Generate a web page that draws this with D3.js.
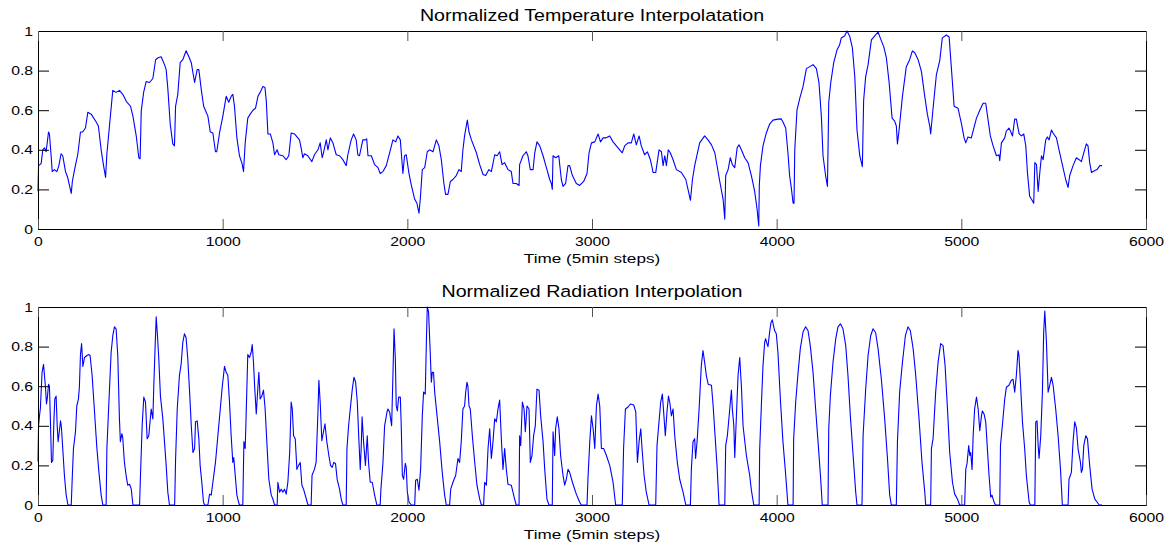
<!DOCTYPE html>
<html>
<head>
<meta charset="utf-8">
<script src="https://cdn.jsdelivr.net/npm/d3@7"></script>
<style>
  body { margin: 0; background: #fff; }
  svg { display: block; }
  text { font-family: Arial, "Liberation Sans", Helvetica, sans-serif; fill: #000; }
</style>
</head>
<body>
<svg id="chart" width="1169" height="546"></svg>
<script>
// Tick values and labels shared by both panels
const xTicks = [0, 1000, 2000, 3000, 4000, 5000, 6000];
const yTicks = [0, 0.2, 0.4, 0.6, 0.8, 1];
const yTickLabels = ["0", "0.2", "0.4", "0.6", "0.8", "1"];
const xLabel = "Time (5min steps)";
const titles = ["Normalized Temperature Interpolatation", "Normalized Radiation Interpolation"];

// Normalized temperature: time step and value
const tempSteps = [0,3,17,26,35,44,57,62,71,77,89,102,113,125,134,149,161,180,186,198,216,230,242,257,270,288,315,327,342,355,366,373,387,405,423,441,459,478,501,514,532,546,553,559,572,586,604,622,637,650,667,685,694,703,716,730,739,745,757,770,784,802,817,830,848,862,871,884,897,920,933,947,961,968,983,1001,1019,1033,1046,1055,1064,1077,1091,1105,1113,1122,1136,1149,1164,1178,1191,1203,1218,1229,1236,1245,1258,1272,1281,1295,1304,1326,1344,1358,1371,1389,1416,1425,1434,1443,1461,1483,1497,1516,1528,1539,1546,1561,1570,1583,1597,1615,1633,1651,1669,1678,1696,1709,1723,1732,1741,1759,1773,1780,1787,1805,1823,1841,1853,1868,1886,1904,1922,1937,1949,1962,1976,1985,1994,2009,2022,2040,2052,2063,2070,2081,2094,2108,2121,2139,2157,2171,2184,2198,2207,2220,2233,2247,2265,2280,2292,2301,2310,2319,2325,2334,2347,2374,2392,2410,2424,2442,2455,2473,2486,2500,2513,2527,2545,2563,2572,2590,2605,2608,2626,2644,2653,2666,2681,2690,2702,2717,2735,2753,2771,2780,2785,2789,2803,2820,2834,2843,2857,2870,2879,2894,2915,2933,2955,2973,2984,2997,3015,3033,3046,3060,3074,3096,3114,3132,3150,3164,3177,3195,3213,3226,3240,3255,3267,3285,3300,3316,3331,3345,3363,3376,3385,3394,3403,3413,3424,3439,3457,3484,3508,3520,3533,3544,3556,3583,3610,3628,3647,3665,3692,3710,3719,3724,3737,3749,3760,3773,3786,3796,3809,3827,3845,3863,3881,3894,3903,3906,3912,3926,3944,3962,3980,4007,4025,4034,4049,4061,4070,4079,4089,4094,4098,4110,4125,4143,4161,4179,4197,4215,4229,4242,4251,4265,4275,4282,4293,4309,4327,4341,4350,4368,4381,4395,4410,4423,4435,4450,4464,4471,4482,4495,4513,4531,4549,4563,4580,4594,4609,4625,4639,4648,4654,4663,4681,4702,4720,4735,4748,4766,4784,4802,4816,4829,4834,4847,4865,4883,4897,4919,4934,4946,4961,4982,5000,5015,5024,5036,5054,5082,5100,5118,5132,5145,5157,5172,5190,5204,5208,5217,5235,5244,5258,5266,5277,5289,5298,5313,5325,5338,5349,5358,5370,5380,5392,5398,5407,5416,5425,5434,5443,5457,5466,5475,5488,5500,5515,5529,5547,5565,5578,5587,5605,5623,5638,5650,5663,5677,5686,5695,5705,5723,5735,5750,5762];
const tempValues = [0.19,0.32,0.33,0.40,0.41,0.39,0.49,0.48,0.37,0.29,0.30,0.29,0.32,0.38,0.37,0.29,0.26,0.18,0.24,0.30,0.38,0.49,0.49,0.51,0.59,0.58,0.54,0.52,0.40,0.32,0.26,0.38,0.52,0.70,0.69,0.70,0.68,0.645,0.62,0.57,0.47,0.36,0.355,0.595,0.69,0.745,0.74,0.76,0.855,0.865,0.87,0.83,0.805,0.71,0.53,0.43,0.42,0.62,0.68,0.84,0.855,0.90,0.87,0.84,0.74,0.805,0.805,0.705,0.62,0.57,0.49,0.485,0.39,0.39,0.485,0.57,0.67,0.64,0.67,0.68,0.62,0.46,0.37,0.33,0.29,0.435,0.56,0.58,0.60,0.61,0.67,0.69,0.72,0.715,0.65,0.48,0.48,0.435,0.375,0.40,0.375,0.37,0.35,0.37,0.485,0.48,0.45,0.41,0.36,0.38,0.37,0.34,0.375,0.40,0.435,0.36,0.385,0.45,0.40,0.46,0.435,0.375,0.37,0.35,0.32,0.375,0.45,0.48,0.45,0.375,0.37,0.45,0.45,0.455,0.37,0.37,0.325,0.31,0.28,0.29,0.32,0.385,0.45,0.44,0.47,0.45,0.28,0.37,0.375,0.28,0.22,0.15,0.13,0.08,0.15,0.30,0.31,0.39,0.40,0.39,0.45,0.42,0.35,0.23,0.175,0.175,0.24,0.25,0.27,0.30,0.29,0.40,0.47,0.52,0.55,0.49,0.45,0.385,0.325,0.275,0.27,0.30,0.29,0.375,0.37,0.39,0.325,0.335,0.30,0.29,0.23,0.23,0.22,0.325,0.37,0.39,0.37,0.30,0.30,0.385,0.44,0.42,0.37,0.31,0.25,0.23,0.20,0.37,0.36,0.37,0.25,0.215,0.23,0.32,0.32,0.27,0.23,0.22,0.24,0.28,0.385,0.435,0.44,0.48,0.44,0.46,0.46,0.47,0.44,0.42,0.40,0.385,0.42,0.435,0.435,0.48,0.425,0.47,0.42,0.375,0.39,0.35,0.285,0.285,0.40,0.39,0.32,0.37,0.32,0.40,0.385,0.35,0.30,0.285,0.25,0.20,0.145,0.25,0.32,0.435,0.47,0.45,0.425,0.385,0.24,0.15,0.05,0.27,0.30,0.36,0.325,0.31,0.41,0.425,0.40,0.36,0.335,0.27,0.19,0.10,0.015,0.22,0.32,0.42,0.485,0.53,0.55,0.555,0.556,0.54,0.51,0.385,0.27,0.21,0.13,0.13,0.40,0.60,0.66,0.72,0.81,0.82,0.83,0.81,0.74,0.57,0.37,0.27,0.215,0.64,0.74,0.84,0.905,0.93,0.965,0.975,1.0,0.975,0.915,0.77,0.50,0.37,0.315,0.65,0.77,0.83,0.955,0.975,0.995,0.96,0.92,0.865,0.74,0.56,0.545,0.52,0.43,0.50,0.67,0.82,0.855,0.90,0.89,0.855,0.795,0.67,0.58,0.52,0.48,0.61,0.78,0.85,0.965,0.98,0.97,0.815,0.62,0.61,0.535,0.46,0.435,0.465,0.46,0.56,0.60,0.635,0.635,0.55,0.47,0.42,0.37,0.375,0.345,0.435,0.46,0.495,0.51,0.495,0.47,0.555,0.555,0.48,0.47,0.48,0.42,0.285,0.165,0.15,0.13,0.335,0.325,0.19,0.285,0.37,0.35,0.45,0.465,0.45,0.50,0.48,0.46,0.40,0.325,0.25,0.21,0.27,0.32,0.36,0.35,0.34,0.385,0.43,0.42,0.335,0.285,0.295,0.30,0.32,0.32];

// Normalized radiation: time step and value
const radSteps = [0,3,8,13,17,22,30,35,40,46,51,57,62,68,73,80,86,91,98,104,109,116,122,127,134,143,152,162,180,186,192,203,210,219,224,230,236,243,252,265,275,282,293,305,319,330,342,351,369,373,384,396,405,414,423,432,441,446,454,459,468,477,486,496,505,514,550,555,564,573,582,591,600,613,622,627,635,640,647,654,663,676,685,694,703,712,740,745,754,766,775,784,793,802,811,821,830,839,848,853,862,871,878,887,896,902,920,929,938,947,961,974,987,998,1010,1019,1028,1037,1046,1055,1060,1068,1077,1086,1091,1109,1115,1122,1127,1136,1145,1154,1160,1167,1174,1182,1191,1196,1203,1212,1221,1230,1239,1250,1263,1272,1281,1295,1299,1308,1317,1326,1335,1344,1353,1363,1371,1377,1384,1393,1402,1411,1420,1429,1438,1447,1462,1479,1484,1497,1506,1516,1521,1528,1537,1546,1554,1564,1575,1584,1593,1602,1611,1620,1633,1642,1651,1669,1673,1682,1691,1702,1711,1720,1729,1738,1745,1750,1755,1763,1773,1783,1790,1799,1810,1823,1835,1853,1857,1868,1877,1890,1895,1904,1915,1922,1928,1935,1940,1946,1953,1962,1967,1973,1980,1989,1994,2000,2009,2022,2040,2045,2054,2063,2072,2081,2088,2097,2103,2108,2115,2124,2130,2135,2142,2148,2161,2175,2189,2202,2211,2229,2235,2247,2262,2274,2283,2292,2301,2310,2316,2323,2328,2334,2341,2352,2365,2377,2392,2401,2413,2419,2428,2437,2446,2455,2464,2473,2482,2491,2500,2509,2518,2527,2536,2545,2563,2581,2590,2605,2608,2614,2623,2632,2639,2648,2659,2666,2675,2684,2693,2702,2713,2722,2735,2744,2756,2767,2785,2789,2798,2803,2812,2821,2830,2843,2852,2861,2870,2879,2894,2915,2933,2942,2973,2978,2988,2997,3006,3015,3024,3033,3042,3051,3063,3078,3096,3114,3128,3164,3171,3181,3195,3208,3226,3237,3246,3255,3264,3271,3282,3294,3309,3345,3352,3361,3372,3381,3388,3397,3406,3414,3421,3430,3439,3448,3462,3475,3493,3508,3533,3538,3547,3556,3561,3569,3580,3592,3601,3610,3619,3629,3647,3656,3665,3677,3688,3719,3724,3733,3746,3755,3760,3768,3773,3782,3791,3800,3809,3818,3836,3854,3863,3876,3905,3908,3917,3926,3935,3940,3946,3953,3962,3969,3976,3989,3998,4007,4020,4034,4049,4061,4089,4092,4103,4116,4128,4143,4157,4170,4182,4197,4211,4224,4237,4247,4278,4282,4291,4305,4320,4332,4345,4359,4374,4386,4399,4414,4428,4435,4462,4468,4482,4495,4509,4522,4536,4549,4567,4585,4600,4612,4621,4648,4654,4666,4681,4697,4711,4724,4739,4753,4771,4787,4802,4807,4834,4838,4847,4861,4874,4888,4901,4912,4925,4937,4952,4964,4979,4991,5018,5024,5031,5040,5046,5051,5058,5064,5072,5082,5091,5100,5109,5114,5123,5132,5141,5150,5159,5166,5177,5185,5208,5212,5222,5235,5244,5258,5271,5280,5289,5298,5307,5312,5320,5331,5343,5352,5367,5374,5398,5403,5410,5416,5421,5430,5439,5446,5452,5461,5470,5479,5488,5497,5511,5524,5537,5547,5578,5583,5596,5605,5614,5623,5632,5645,5650,5656,5663,5674,5683,5695,5708,5723,5735,5746,5762];
const radValues = [0.22,0.40,0.45,0.49,0.57,0.67,0.71,0.655,0.60,0.51,0.545,0.61,0.60,0.40,0.215,0.225,0.42,0.535,0.55,0.40,0.32,0.375,0.425,0.39,0.285,0.15,0.055,0,0,0.15,0.285,0.37,0.50,0.535,0.595,0.76,0.815,0.70,0.745,0.755,0.76,0.755,0.655,0.485,0.285,0.165,0.05,0,0,0.285,0.52,0.77,0.855,0.90,0.89,0.755,0.435,0.32,0.36,0.34,0.215,0.15,0.10,0.105,0.08,0,0,0.15,0.40,0.545,0.52,0.335,0.35,0.485,0.435,0.60,0.82,0.95,0.855,0.74,0.55,0.435,0.32,0.20,0.065,0,0,0.23,0.485,0.655,0.71,0.82,0.865,0.845,0.74,0.57,0.40,0.265,0.285,0.42,0.425,0.335,0.20,0.115,0.015,0,0,0.055,0.05,0.115,0.215,0.35,0.485,0.60,0.70,0.67,0.655,0.52,0.35,0.215,0.24,0.15,0.05,0.015,0,0,0.32,0.285,0.45,0.76,0.745,0.77,0.81,0.72,0.585,0.46,0.60,0.67,0.535,0.55,0.58,0.485,0.32,0.13,0.05,0.03,0,0,0.115,0.065,0.08,0.065,0.08,0.055,0.115,0.265,0.52,0.485,0.35,0.335,0.18,0.20,0.215,0.10,0.08,0.05,0,0,0.15,0.18,0.215,0.47,0.63,0.52,0.325,0.37,0.41,0.32,0.25,0.20,0.19,0.215,0.21,0.13,0.08,0.03,0,0,0.285,0.40,0.485,0.585,0.645,0.62,0.52,0.32,0.18,0.285,0.445,0.32,0.20,0.35,0.215,0.115,0.115,0.05,0,0,0.08,0.215,0.40,0.47,0.485,0.47,0.40,0.655,0.89,0.74,0.50,0.475,0.545,0.545,0.40,0.15,0.13,0.21,0.19,0.065,0.015,0,0,0.125,0.13,0.075,0.18,0.45,0.57,0.56,0.82,1.0,0.975,0.77,0.62,0.67,0.67,0.57,0.45,0.32,0.165,0.05,0,0,0.08,0.115,0.15,0.235,0.215,0.32,0.485,0.50,0.57,0.62,0.60,0.50,0.485,0.35,0.215,0.10,0.03,0,0,0.115,0.10,0.285,0.385,0.235,0.32,0.435,0.42,0.485,0.53,0.335,0.18,0.285,0.18,0.105,0.10,0.03,0,0,0.35,0.30,0.52,0.485,0.37,0.50,0.485,0.215,0.25,0.35,0.40,0.585,0.58,0.45,0.32,0.18,0.03,0,0,0.37,0.25,0.385,0.445,0.385,0.25,0.15,0.10,0.13,0.18,0.165,0.115,0.055,0.015,0,0,0.13,0.32,0.45,0.385,0.285,0.50,0.56,0.50,0.285,0.285,0.25,0.20,0.115,0,0,0.285,0.485,0.495,0.51,0.505,0.47,0.215,0.32,0.385,0.285,0.15,0.065,0,0,0.30,0.40,0.52,0.56,0.47,0.35,0.47,0.55,0.52,0.45,0.485,0.35,0.215,0.13,0.065,0,0,0.18,0.32,0.335,0.235,0.32,0.485,0.705,0.78,0.72,0.655,0.61,0.605,0.50,0.37,0.20,0,0,0.30,0.35,0.485,0.58,0.485,0.40,0.24,0.45,0.655,0.745,0.60,0.40,0.25,0.15,0.075,0,0,0.28,0.50,0.705,0.82,0.84,0.82,0.80,0.875,0.92,0.935,0.88,0.865,0.77,0.535,0.32,0.15,0,0,0.335,0.52,0.67,0.79,0.875,0.90,0.88,0.805,0.67,0.485,0.32,0.15,0,0,0.385,0.555,0.72,0.84,0.90,0.915,0.89,0.805,0.655,0.45,0.25,0.065,0,0,0.35,0.585,0.755,0.855,0.89,0.87,0.79,0.635,0.435,0.235,0.05,0,0,0.32,0.57,0.72,0.855,0.90,0.88,0.79,0.655,0.435,0.215,0.065,0,0,0.285,0.335,0.57,0.72,0.815,0.805,0.705,0.485,0.265,0.115,0.055,0.03,0,0,0.18,0.21,0.30,0.25,0.265,0.18,0.35,0.485,0.545,0.485,0.375,0.45,0.475,0.46,0.42,0.285,0.15,0.04,0.05,0.015,0,0,0.30,0.40,0.535,0.595,0.605,0.63,0.635,0.57,0.655,0.78,0.755,0.62,0.42,0.285,0.15,0.015,0,0,0.42,0.425,0.30,0.235,0.35,0.57,0.875,0.98,0.82,0.57,0.605,0.645,0.605,0.485,0.35,0.18,0,0,0.13,0.165,0.32,0.42,0.39,0.285,0.215,0.165,0.18,0.30,0.35,0.335,0.20,0.08,0.03,0.015,0,0];

// Layout of the two stacked panels
const plotLeft = 38, plotRight = 1146;
const panels = [
  { title: titles[0], steps: tempSteps, values: tempValues, top: 31, bottom: 229 },
  { title: titles[1], steps: radSteps, values: radValues, top: 307, bottom: 505 }
];

const svg = d3.select("#chart");
const stretch = 1.25; // horizontally widened lettering
const lineColor = "#0000ff";

panels.forEach(p => {
  const x = d3.scaleLinear().domain([0, 6000]).range([plotLeft, plotRight]);
  const y = d3.scaleLinear().domain([0, 1]).range([p.bottom, p.top]);
  const g = svg.append("g");

  // series line
  const pts = p.steps.map((s, i) => [s, p.values[i]]);
  g.append("path")
    .datum(pts)
    .attr("fill", "none")
    .attr("stroke", lineColor)
    .attr("stroke-width", 1.1)
    .attr("stroke-linejoin", "round")
    .attr("d", d3.line().x(d => x(d[0])).y(d => y(d[1])));

  // left axis with labels, ticks pointing inward
  const left = g.append("g").attr("transform", `translate(${plotLeft},0)`)
    .call(d3.axisLeft(y).tickValues(yTicks).tickSizeInner(-11).tickSizeOuter(0).tickPadding(4)
      .tickFormat((d, i) => yTickLabels[i]));
  // right axis, ticks only
  const right = g.append("g").attr("transform", `translate(${plotRight},0)`)
    .call(d3.axisRight(y).tickValues(yTicks).tickSizeInner(-11).tickSizeOuter(0).tickFormat(""));
  // bottom axis with labels
  const bottom = g.append("g").attr("transform", `translate(0,${p.bottom})`)
    .call(d3.axisBottom(x).tickValues(xTicks).tickSizeInner(-10).tickSizeOuter(0).tickPadding(7.6)
      .tickFormat(d3.format("d")));
  // top axis, ticks only
  const topAx = g.append("g").attr("transform", `translate(0,${p.top})`)
    .call(d3.axisTop(x).tickValues(xTicks).tickSizeInner(-10).tickSizeOuter(0).tickFormat(""));

  [left, right, bottom, topAx].forEach(a => {
    a.select(".domain").attr("stroke", "#000").attr("stroke-width", 1);
    a.selectAll("text")
      .style("font-family", "Arial, 'Liberation Sans', sans-serif")
      .style("font-size", "12.6px")
      .attr("fill", "#000")
      .attr("transform", `scale(${stretch},1)`);
  });
  [left, right].forEach(a => a.selectAll(".tick line").attr("stroke", "#000"));
  [bottom, topAx].forEach(a => a.selectAll(".tick line").attr("stroke", "#555"));
  // left labels: keep right edge a few pixels from the axis after widening
  left.selectAll("text").attr("x", -4);

  // title
  svg.append("text")
    .attr("transform", `translate(${(plotLeft + plotRight) / 2},${p.top - 10}) scale(${stretch},1)`)
    .attr("text-anchor", "middle")
    .style("font-size", "15.7px")
    .text(p.title);

  // x axis label
  svg.append("text")
    .attr("transform", `translate(${(plotLeft + plotRight) / 2},${p.bottom + 34}) scale(${stretch},1)`)
    .attr("text-anchor", "middle")
    .style("font-size", "13.7px")
    .text(xLabel);
});
</script>
</body>
</html>
